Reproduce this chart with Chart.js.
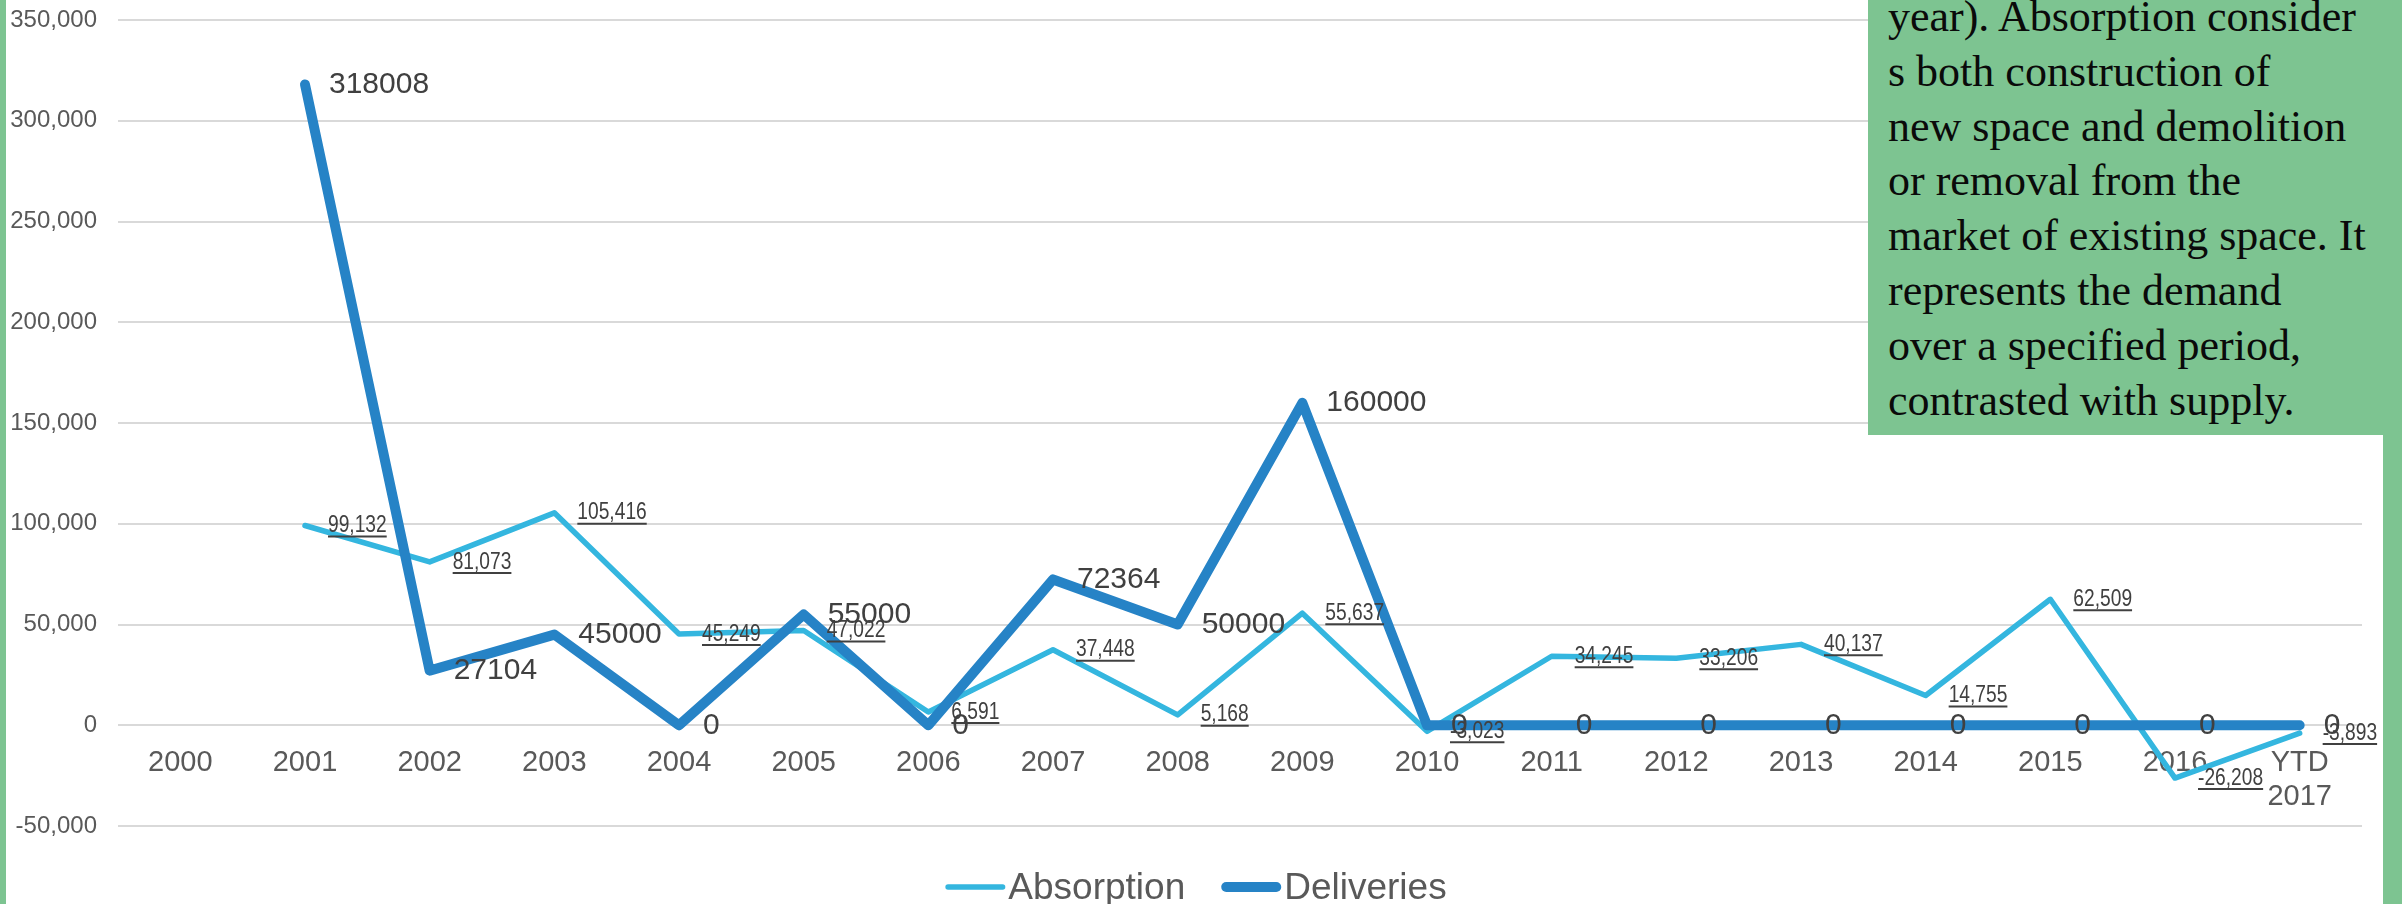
<!DOCTYPE html>
<html>
<head>
<meta charset="utf-8">
<script src="https://cdn.jsdelivr.net/npm/chart.js@4.4.1/dist/chart.umd.min.js"></script>
<style>
    html, body { margin: 0; padding: 0; background: #ffffff; }
    #wrap { position: relative; width: 2402px; height: 904px; overflow: hidden; }
    #chart-box { position: absolute; left: 0; top: 0; width: 2402px; height: 904px; }
    .strip { position: absolute; top: 0; height: 904px; background: #7DC491; }
    #note {
        position: absolute; left: 1868px; top: 0; width: 534px; height: 435px;
        background: #7DC491; overflow: hidden;
    }
    #note p {
        position: absolute; left: 20px; top: -10px; margin: 0;
        font: 44px/54.8px 'Liberation Serif', serif; color: #0a0a0a; white-space: nowrap;
    }
</style>
</head>
<body>
<div id="wrap">
    <div id="chart-box"><canvas id="absorption-chart"></canvas></div>
    <div class="strip" style="left:0;width:6px"></div>
    <div class="strip" style="left:2383px;width:19px"></div>
    <div id="note"><p>year). Absorption consider<br>s both construction of<br>new space and demolition<br>or removal from the<br>market of existing space. It<br>represents the demand<br>over a specified period,<br>contrasted with supply.</p></div>
</div>
<script>
// Данные
const years = ['2000', '2001', '2002', '2003', '2004', '2005', '2006', '2007', '2008',
               '2009', '2010', '2011', '2012', '2013', '2014', '2015', '2016', ['YTD', '2017']];
const absorption = [null, 99132, 81073, 105416, 45249, 47022, 6591, 37448, 5168,
                    55637, -3023, 34245, 33206, 40137, 14755, 62509, -26208, -3893];
const deliveries = [null, 318008, 27104, 45000, 0, 55000, 0, 72364, 50000,
                    160000, 0, 0, 0, 0, 0, 0, 0, 0];
const seriesNames = ['Absorption', 'Deliveries'];
const yMin = -50000;
const yMax = 350000;
const yStep = 50000;

const LIGHT = '#34B6DF';
const DARK = '#2683C6';
const LABEL_COLOR = '#404040';
const AXIS_COLOR = '#595959';

// Подписи значений у точек
const valueLabels = {
    id: 'valueLabels',
    afterDatasetsDraw(chart) {
        const ctx = chart.ctx;
        ctx.save();
        ctx.fillStyle = LABEL_COLOR;
        ctx.strokeStyle = LABEL_COLOR;
        ctx.textBaseline = 'middle';
        ctx.textAlign = 'left';
        chart.data.datasets.forEach(function(ds, i) {
            const meta = chart.getDatasetMeta(i);
            meta.data.forEach(function(pt, j) {
                const v = ds.data[j];
                if (v === null) return;
                if (ds.label === 'Absorption') {
                    // узкий подчёркнутый шрифт
                    const txt = v.toLocaleString('en-US');
                    const sx = 0.8;
                    const x = pt.x + 23;
                    ctx.font = "24px 'Liberation Sans', sans-serif";
                    const w = ctx.measureText(txt).width * sx;
                    ctx.save();
                    ctx.translate(x, pt.y);
                    ctx.scale(sx, 1);
                    ctx.fillText(txt, 0, 0);
                    ctx.restore();
                    ctx.lineWidth = 2;
                    ctx.beginPath();
                    ctx.moveTo(x, pt.y + 11);
                    ctx.lineTo(x + w, pt.y + 11);
                    ctx.stroke();
                } else {
                    ctx.font = "30px 'Liberation Sans', sans-serif";
                    ctx.fillText(String(v), pt.x + 24, pt.y);
                }
            });
        });
        ctx.restore();
    }
};

// Легенда внизу
const bottomLegend = {
    id: 'bottomLegend',
    afterDraw(chart) {
        const ctx = chart.ctx;
        ctx.save();
        ctx.font = "37px 'Liberation Sans', sans-serif";
        ctx.textBaseline = 'middle';
        const lineLen = 60, gapText = 3, gapItems = 36;
        const items = chart.data.datasets.map(function(ds) {
            return { text: ds.label, color: ds.borderColor, width: ds.borderWidth,
                     w: ctx.measureText(ds.label).width };
        });
        let total = 0;
        items.forEach(function(it, k) {
            total += lineLen + gapText + it.w + (k ? gapItems : 0);
        });
        let x = 1196 - total / 2;
        const y = 887;
        items.forEach(function(it) {
            ctx.strokeStyle = it.color;
            ctx.lineWidth = it.width;
            ctx.lineCap = 'round';
            ctx.beginPath();
            ctx.moveTo(x + it.width / 2, y);
            ctx.lineTo(x + lineLen - it.width / 2, y);
            ctx.stroke();
            ctx.fillStyle = AXIS_COLOR;
            ctx.fillText(it.text, x + lineLen + gapText, y + 2);
            x += lineLen + gapText + it.w + gapItems;
        });
        ctx.restore();
    }
};

document.addEventListener('DOMContentLoaded', function() {
    const canvas = document.getElementById('absorption-chart');

    new Chart(canvas.getContext('2d'), {
        type: 'line',
        data: {
            labels: years,
            datasets: [{
                label: seriesNames[0],
                data: absorption,
                borderColor: LIGHT,
                backgroundColor: LIGHT,
                borderWidth: 5.5,
                pointRadius: 0,
                tension: 0,
                borderCapStyle: 'round',
                borderJoinStyle: 'round',
                order: 1
            }, {
                label: seriesNames[1],
                data: deliveries,
                borderColor: DARK,
                backgroundColor: DARK,
                borderWidth: 10,
                pointRadius: 0,
                tension: 0,
                borderCapStyle: 'round',
                borderJoinStyle: 'round',
                order: 0
            }]
        },
        options: {
            responsive: true,
            maintainAspectRatio: false,
            animation: false,
            devicePixelRatio: 1,
            layout: {
                padding: { left: 0, right: 40, top: 20, bottom: 78 }
            },
            plugins: {
                legend: { display: false },
                tooltip: { enabled: false }
            },
            scales: {
                x: {
                    type: 'category',
                    position: { y: 0 },
                    offset: true,
                    grid: { display: false, drawTicks: false },
                    border: { display: false },
                    ticks: {
                        color: AXIS_COLOR,
                        padding: 20,
                        maxRotation: 0,
                        autoSkip: false,
                        font: { family: "'Liberation Sans', sans-serif", size: 29 }
                    }
                },
                y: {
                    min: yMin,
                    max: yMax,
                    afterFit: function(scale) {
                        scale.width = 118;
                        scale.paddingTop = 0;
                        scale.paddingBottom = 0;
                    },
                    grid: { color: '#d9d9d9', lineWidth: 2, drawTicks: false },
                    border: { display: false },
                    ticks: {
                        stepSize: yStep,
                        color: AXIS_COLOR,
                        padding: 21,
                        font: { family: "'Liberation Sans', sans-serif", size: 24 },
                        callback: function(value) {
                            return value.toLocaleString('en-US');
                        }
                    }
                }
            }
        },
        plugins: [valueLabels, bottomLegend]
    });
});
</script>
</body>
</html>
